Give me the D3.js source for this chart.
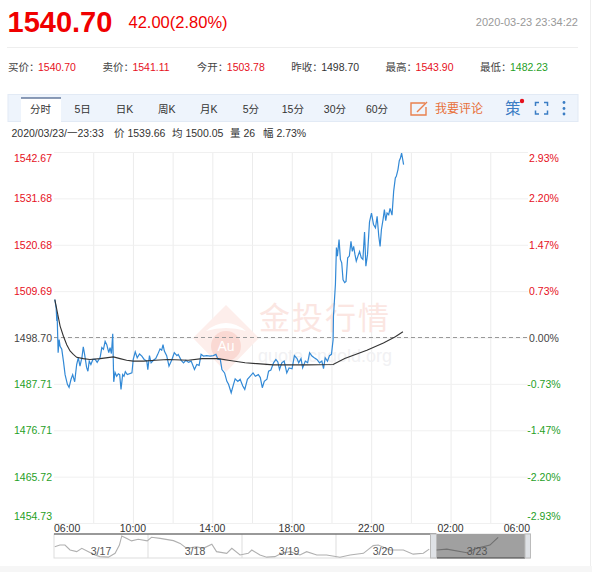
<!DOCTYPE html>
<html>
<head>
<meta charset="utf-8">
<script src="https://cdnjs.cloudflare.com/ajax/libs/d3/7.8.5/d3.min.js"></script>
<style>
  html, body { margin: 0; padding: 0; background: #fff; overflow: hidden; }
  text { font-family: "Liberation Sans", "Noto Sans CJK SC", sans-serif; }
</style>
</head>
<body>
<div id="canvas"></div>
<script>
"use strict"

/* tick labels */
let priceTicks = [1542.67, 1531.68, 1520.68, 1509.69, 1498.70, 1487.71, 1476.71, 1465.72, 1454.73];
let percentTicks = ["2.93%", "2.20%", "1.47%", "0.73%", "0.00%", "-0.73%", "-1.47%", "-2.20%", "-2.93%"];
let hourTicks = [0, 120, 240, 360, 480, 600, 720, 840, 960, 1080, 1200, 1320, 1440];
let hourLabels = { 0: "06:00", 240: "10:00", 480: "14:00", 720: "18:00", 960: "22:00", 1200: "02:00", 1440: "06:00" };
let tabNames = ["分时", "5日", "日K", "周K", "月K", "5分", "15分", "30分", "60分"];
let dayNames = ["3/17", "3/18", "3/19", "3/20", "3/23"];

/* minutes after 06:00 and price */
let priceMinutes = [4, 8, 10, 11, 14, 17, 20, 25, 30, 35, 42, 47, 53, 58, 64, 70, 75, 80, 86, 90, 94, 100, 104, 108, 113, 119, 126, 132, 141, 146, 151, 156, 161, 167, 171, 175, 179, 182, 186, 191, 196, 200, 204, 209, 213, 217, 223, 237, 241, 247, 253, 260, 267, 274, 282, 285, 290, 295, 302, 309, 315, 322, 327, 331, 335, 342, 349, 358, 365, 373, 377, 386, 393, 400, 408, 416, 426, 433, 440, 446, 453, 463, 473, 483, 491, 497, 504, 509, 517, 524, 529, 537, 544, 549, 557, 564, 572, 578, 586, 594, 603, 610, 619, 625, 631, 637, 645, 650, 657, 665, 672, 678, 683, 690, 697, 705, 712, 721, 728, 736, 741, 748, 753, 761, 768, 774, 781, 788, 796, 804, 811, 816, 821, 828, 834, 840, 845, 846, 852, 855, 858, 863, 867, 871, 875, 880, 884, 889, 894, 899, 903, 907, 911, 915, 920, 925, 930, 935, 940, 944, 949, 955, 961, 967, 973, 978, 983, 987, 991, 996, 1000, 1004, 1008, 1013, 1017, 1023, 1028, 1033, 1036, 1041, 1045, 1048, 1052, 1058];
let priceValues = [1507.7, 1505.7, 1502.6, 1504.1, 1495.1, 1498.2, 1496.6, 1495.9, 1493.1, 1489.9, 1487.6, 1486.9, 1488.8, 1489.9, 1488.2, 1492.3, 1493.9, 1491.9, 1494.0, 1496.5, 1494.7, 1491.6, 1490.7, 1493.1, 1492.3, 1493.5, 1493.5, 1492.8, 1494.0, 1496.3, 1495.9, 1497.8, 1497.0, 1495.1, 1496.3, 1494.9, 1499.6, 1488.2, 1490.4, 1489.5, 1490.1, 1489.9, 1486.4, 1489.9, 1489.5, 1490.6, 1489.9, 1490.3, 1493.5, 1495.3, 1493.9, 1494.8, 1494.3, 1493.5, 1493.1, 1491.1, 1494.4, 1492.7, 1493.3, 1493.7, 1494.7, 1496.0, 1495.7, 1497.0, 1495.5, 1494.4, 1491.9, 1493.5, 1495.1, 1494.4, 1494.7, 1493.3, 1492.7, 1493.3, 1492.8, 1493.1, 1491.1, 1492.3, 1492.1, 1494.7, 1494.3, 1494.4, 1494.3, 1494.4, 1494.7, 1493.5, 1493.5, 1491.1, 1490.3, 1488.3, 1487.6, 1485.6, 1487.6, 1488.9, 1488.3, 1488.8, 1487.2, 1486.4, 1488.8, 1489.5, 1490.3, 1489.5, 1489.9, 1489.2, 1486.8, 1488.3, 1488.8, 1490.7, 1491.0, 1492.7, 1493.5, 1492.9, 1491.1, 1492.7, 1493.1, 1490.3, 1491.5, 1491.3, 1494.4, 1493.7, 1492.7, 1493.7, 1491.5, 1493.1, 1492.7, 1495.1, 1494.3, 1493.9, 1493.5, 1492.7, 1493.1, 1491.3, 1493.9, 1493.1, 1494.4, 1494.7, 1498.2, 1503.7, 1511.3, 1520.0, 1518.0, 1521.9, 1517.2, 1516.4, 1512.4, 1511.7, 1512.0, 1517.6, 1518.0, 1521.5, 1519.1, 1520.3, 1518.4, 1516.8, 1518.0, 1519.1, 1517.6, 1517.2, 1523.7, 1515.6, 1518.4, 1526.1, 1528.2, 1525.5, 1524.7, 1527.4, 1522.7, 1520.3, 1524.3, 1526.7, 1529.0, 1526.4, 1528.2, 1527.8, 1529.3, 1527.7, 1533.4, 1536.5, 1536.9, 1538.5, 1540.6, 1541.1, 1542.4, 1539.7];

/* average price line */
let avgMinutes = [4, 10, 20, 30, 40, 50, 60, 70, 90, 110, 141, 181, 201, 221, 241, 272, 307, 346, 407, 449, 498, 528, 579, 615, 664, 766, 845, 880, 947, 997, 1033, 1056];
let avgValues = [1507.7, 1505.3, 1501.4, 1499.0, 1497.0, 1495.5, 1494.7, 1494.0, 1493.7, 1493.5, 1493.7, 1494.1, 1493.7, 1493.3, 1493.1, 1493.1, 1493.3, 1493.5, 1493.3, 1493.7, 1493.7, 1493.3, 1492.7, 1492.5, 1492.2, 1492.2, 1492.3, 1493.7, 1495.7, 1497.4, 1498.9, 1500.05];

/* overview strip: hours after the first session opens, and price */
let navHours = [0.2, 1.5, 2.8, 4.1, 5.8, 7.1, 8.8, 10.5, 11.7, 13.9, 15.6, 16.7, 17.3, 18.6, 19.8, 21.5, 23.8, 24.9, 27.1, 30.5, 32.2, 33.9, 36.4, 38.1, 40.3, 41.5, 44.1, 45.4, 47.5, 49.6, 50.5, 52.6, 54.3, 56.4, 58.1, 60.3, 62.8, 64.5, 67.1, 69.6, 73.0, 75.6, 79.0, 81.5, 82.8, 85.8, 89.2, 91.7, 94.3, 95.8, 97.7, 100.3, 105.4, 107.9, 111.3, 113.4];
let navValues = [1505, 1511, 1511, 1493, 1487, 1499, 1487, 1475, 1469, 1467, 1481, 1511, 1544, 1535, 1526, 1532, 1526, 1539, 1535, 1527, 1517, 1499, 1505, 1499, 1514, 1487, 1481, 1499, 1475, 1481, 1493, 1475, 1467, 1469, 1481, 1487, 1475, 1487, 1475, 1475, 1467, 1475, 1481, 1509, 1511, 1493, 1493, 1478, 1481, 1496, 1493, 1496, 1483, 1499, 1511, 1539];

let prevClose = 1498.70;
let red = "#e6101c", green = "#1fa01f";

let drawing = d3.select("#canvas").append("svg")
  .attr("width", 592).attr("height", 572)
  .style("display", "block");

/* ---------- header ---------- */
function label(x, y, str, size, fill, anchor, weight) {
  return drawing.append("text")
    .attr("x", x).attr("y", y).text(str)
    .attr("font-size", size).attr("fill", fill)
    .attr("text-anchor", anchor || "start")
    .attr("font-weight", weight || "normal");
}

label(7.5, 32, "1540.70", 29, "#f00000", "start", "bold");
label(128.5, 27.5, "42.00(2.80%)", 16.5, "#f00000");
label(578, 26, "2020-03-23 23:34:22", 11, "#999", "end");
drawing.append("line").attr("x1", 7).attr("x2", 578).attr("y1", 47.5).attr("y2", 47.5).attr("stroke", "#eee");

/* quote row */
let quoteNames = ["买价：", "卖价：", "今开：", "昨收：", "最高：", "最低："];
let quoteValues = ["1540.70", "1541.11", "1503.78", "1498.70", "1543.90", "1482.23"];
let quoteColors = [red, red, red, "#333", red, green];
let quoteLeft = d3.scaleLinear().domain([0, 5]).range([8, 480]);
quoteNames.forEach(function (d, i) {
  label(quoteLeft(i), 71, d, 10.5, "#444");
  label(quoteLeft(i) + 30, 71, quoteValues[i], 10.5, quoteColors[i]);
});

/* tab bar */
drawing.append("rect").attr("x", 8).attr("y", 94.5).attr("width", 570).attr("height", 27)
  .attr("fill", "#eef4fc").attr("stroke", "#e2eaf5");
drawing.append("rect").attr("x", 21).attr("y", 98).attr("width", 40).attr("height", 24).attr("fill", "#fff");
drawing.append("line").attr("x1", 21).attr("x2", 61).attr("y1", 98).attr("y2", 98).attr("stroke", "#1d3a6e");
let tabX = d3.scalePoint().domain(tabNames).range([40.5, 377]);
tabNames.forEach(function (d) {
  label(tabX(d), 113, d, 10.5, "#333", "middle");
});

/* comment button and icons */
drawing.append("path").attr("d", "M425 103H411V115H426V107").attr("fill", "none").attr("stroke", "#e9804e").attr("stroke-width", 1.4);
drawing.append("path").attr("d", "M417 112L427 102").attr("fill", "none").attr("stroke", "#e9804e").attr("stroke-width", 1.4);
label(435, 112.5, "我要评论", 12, "#e8703a");
label(505, 114, "策", 15.5, "#3b7dc4");
drawing.append("circle").attr("cx", 522).attr("cy", 101).attr("r", 2.2).attr("fill", "#e6101c");
drawing.append("path")
  .attr("d", "M535.5 106V102.5H539M544 102.5H547.5V106M547.5 110.5V114H544M539 114H535.5V110.5")
  .attr("fill", "none").attr("stroke", "#3b7dc4").attr("stroke-width", 1.5);
[102.5, 108.5, 114].forEach(function (cy) {
  drawing.append("circle").attr("cx", 564).attr("cy", cy).attr("r", 1.4).attr("fill", "#3b7dc4");
});

/* hover info row */
label(11.5, 137, "2020/03/23/一23:33", 10.5, "#333");
label(114, 137, "价 1539.66", 10.5, "#333");
label(172, 137, "均 1500.05", 10.5, "#333");
label(230, 137, "量 26", 10.5, "#333");
label(263, 137, "幅 2.73%", 10.5, "#333");

/* ---------- scales ---------- */
let x = d3.scaleLinear().domain([0, 1440]).range([53.5, 530]);
let y = d3.scaleLinear().domain([1454.73, 1542.67]).range([523, 152]);

/* ---------- grid, drawn with the axes ---------- */
let xGrid = d3.axisBottom(x).tickValues(hourTicks.slice(1, -1)).tickSize(-371).tickFormat("");
drawing.append("g").attr("transform", "translate(0,523)").call(xGrid)
  .call(g => g.select(".domain").remove())
  .call(g => g.selectAll("line").attr("stroke", "#ececec"));

let yGrid = d3.axisLeft(y).tickValues(priceTicks).tickSize(-474).tickFormat("");
drawing.append("g").attr("transform", "translate(54,0)").call(yGrid)
  .call(g => g.select(".domain").remove())
  .call(g => g.selectAll("line").attr("stroke", "#f0f0f0"));

/* ---------- watermark ---------- */
let mark = drawing.append("g");
mark.append("path").attr("d", "M226 305L259 338L226 372L193 338Z").attr("fill", "#fdeeeb");
mark.append("circle").attr("cx", 226).attr("cy", 346).attr("r", 15).attr("fill", "#fad9d3");
mark.append("path").attr("d", "M206 331Q226 315 246 331Q226 325 206 331Z").attr("fill", "#fff");
mark.append("text").attr("x", 226).attr("y", 351).attr("text-anchor", "middle")
  .attr("font-size", 14).attr("fill", "#fff").text("Au");
mark.append("text").attr("x", 259).attr("y", 329).attr("font-size", 31)
  .attr("fill", "#fbe6e2").attr("letter-spacing", 2).text("金投行情");
mark.append("text").attr("x", 258).attr("y", 362).attr("font-size", 18)
  .attr("fill", "#f1f1f3").text("quote.cngold.org");

/* previous close */
drawing.append("line")
  .attr("x1", 54).attr("x2", 528)
  .attr("y1", y(prevClose)).attr("y2", y(prevClose))
  .attr("stroke", "#999").attr("stroke-dasharray", "4 3");

/* ---------- price labels ---------- */
function tickColor(v) {
  return v > prevClose ? red : (v < prevClose ? green : "#444");
}
let labelShift = d3.scaleOrdinal().domain([1542.67, 1454.73]).range([10, -3]).unknown(4);

priceTicks.forEach(function (v, i) {
  label(33, y(v) + labelShift(v), v.toFixed(2), 10.5, tickColor(v), "middle");
  label(544, y(v) + labelShift(v), percentTicks[i], 10.5, tickColor(v), "middle");
});

/* ---------- series ---------- */
let priceLine = d3.line().x(d => x(d[0])).y(d => y(d[1]));

drawing.append("path").datum(d3.zip(priceMinutes, priceValues))
  .attr("d", priceLine).attr("fill", "none")
  .attr("stroke", "#3289d6").attr("stroke-width", 1.2);

drawing.append("path").datum(d3.zip(avgMinutes, avgValues))
  .attr("d", priceLine).attr("fill", "none")
  .attr("stroke", "#333").attr("stroke-width", 1.1);

/* ---------- time labels ---------- */
hourTicks.forEach(function (m) {
  if (!hourLabels[m]) return;
  let anchor = m == 0 ? "start" : (m == 1440 ? "end" : "middle");
  label(x(m) + (m == 0 ? 0.5 : 0), 532, hourLabels[m], 10.5, "#333", anchor);
});

/* ---------- overview strip ---------- */
let navX = d3.scaleLinear().domain([0, 120]).range([54, 524]);
let navY = d3.scaleLinear().domain([1464, 1551]).range([558, 534]);
let navTop = 534, navBottom = 558;

drawing.append("rect").attr("x", 54).attr("y", navTop).attr("width", 476).attr("height", navBottom - navTop)
  .attr("fill", "#fff").attr("stroke", "#ddd");

[24, 48, 72].forEach(function (h) {
  drawing.append("line").attr("x1", navX(h)).attr("x2", navX(h)).attr("y1", navTop).attr("y2", navBottom).attr("stroke", "#ddd");
});

drawing.append("line").attr("x1", 54).attr("x2", navX(96) + 6).attr("y1", navTop).attr("y2", navTop).attr("stroke", "#444");

/* selected window */
drawing.append("rect").attr("x", 437).attr("y", navTop).attr("width", 88).attr("height", navBottom - navTop).attr("fill", "#a0a0a0");
drawing.append("line").attr("x1", 437).attr("x2", 525).attr("y1", navBottom).attr("y2", navBottom).attr("stroke", "#444");
drawing.append("rect").attr("x", 430.5).attr("y", navTop).attr("width", 6).attr("height", navBottom - navTop).attr("fill", "#dfe2e6").attr("stroke", "#bbb");
drawing.append("rect").attr("x", 525).attr("y", navTop).attr("width", 5.5).attr("height", navBottom - navTop).attr("fill", "#dfe2e6").attr("stroke", "#bbb");

let navLine = d3.line().x(d => navX(d[0])).y(d => navY(d[1]));
let navPoints = d3.zip(navHours, navValues);
drawing.append("path").datum(navPoints.filter(d => d[0] < 96))
  .attr("d", navLine).attr("fill", "none").attr("stroke", "#b0b0b0").attr("stroke-width", 1.1);
drawing.append("path").datum(navPoints.filter(d => d[0] > 97))
  .attr("d", navLine).attr("fill", "none").attr("stroke", "#707070").attr("stroke-width", 1.1);

dayNames.forEach(function (d, i) {
  label(navX(12 + 24 * i), 555, d, 10.5, "#555", "middle");
});

/* page edges */
drawing.append("line").attr("x1", 590.5).attr("x2", 590.5).attr("y1", 0).attr("y2", 566).attr("stroke", "#eee");
drawing.append("rect").attr("x", 0).attr("y", 566).attr("width", 592).attr("height", 6).attr("fill", "#f6f6f6");
</script>
</body>
</html>
